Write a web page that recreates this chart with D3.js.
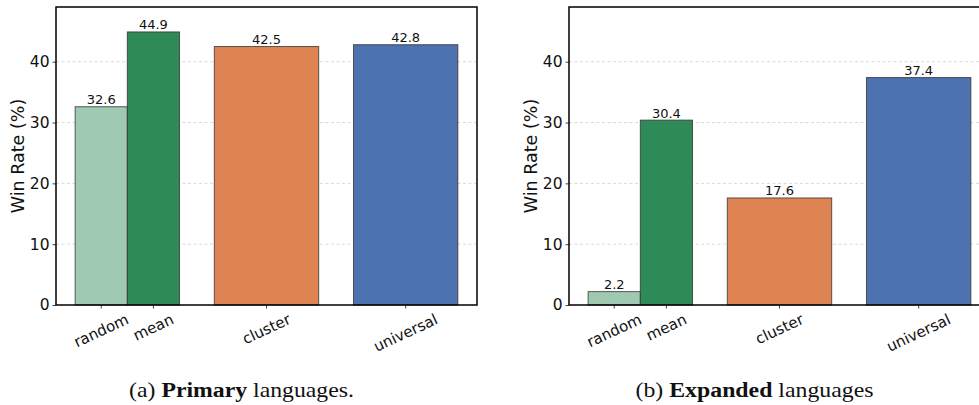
<!DOCTYPE html>
<html>
<head>
<meta charset="utf-8">
<script src="https://cdn.jsdelivr.net/npm/d3@7"></script>
<style>
  body { margin: 0; background: #fff; }
  svg { display: block; }
</style>
</head>
<body>
<div id="chart"></div>
<script>
// data
const methods = ['random', 'mean', 'cluster', 'universal']
const groups = [['random', 'mean'], ['cluster'], ['universal']]
const primaryRates = [32.6, 44.9, 42.5, 42.8]
const expandedRates = [2.2, 30.4, 17.6, 37.4]
const yTicks = [0, 10, 20, 30, 40]
const colors = {random: '#a0c9b2', mean: '#2e8b57', cluster: '#dd8452', universal: '#4c72b0'}

const W = 979, H = 405
const svg = d3.select('#chart').append('svg').attr('width', W).attr('height', H)

// lay out bars: groups at 0,1,2, total width 0.75 split inside a group
function layout (values) {
  const out = []
  groups.forEach((g, gi) => {
    const bw = 0.75 / g.length
    g.forEach((m, k) => {
      out.push({name: m, value: values[methods.indexOf(m)], x0: gi - 0.375 + k * bw, x1: gi - 0.375 + (k + 1) * bw})
    })
  })
  return out
}

function panel (left, values, captionParts, captionWidth) {
  const top = 7, bottom = 305, width = 421
  const data = layout(values)
  const x = d3.scaleLinear().domain([-0.5125, 2.5125]).range([left, left + width])
  const y = d3.scaleLinear().domain([0, 49]).range([bottom, top])
  const g = svg.append('g')

  // grid
  g.selectAll('line.grid').data(yTicks.filter(d => d > 0)).join('line')
    .attr('x1', left).attr('x2', left + width)
    .attr('y1', d => y(d)).attr('y2', d => y(d))
    .attr('stroke', '#cfcfcf').attr('stroke-width', 0.8).attr('stroke-dasharray', '3,2.5')

  // bars
  g.selectAll('rect').data(data).join('rect')
    .attr('x', d => x(d.x0)).attr('width', d => x(d.x1) - x(d.x0))
    .attr('y', d => y(d.value)).attr('height', d => y(0) - y(d.value))
    .attr('fill', d => colors[d.name])
    .attr('stroke', '#333').attr('stroke-opacity', 0.8).attr('stroke-width', 1)

  // value labels
  g.selectAll('text.val').data(data).join('text')
    .attr('x', d => x((d.x0 + d.x1) / 2)).attr('y', d => y(d.value) - 2.5)
    .attr('text-anchor', 'middle')
    .style('font', '13px "DejaVu Sans"').attr('fill', '#111')
    .text(d => d.value.toFixed(1))

  // y axis
  const yAxis = d3.axisLeft(y).tickValues(yTicks).tickSize(3.5).tickPadding(3)
  const ya = g.append('g').attr('transform', `translate(${left},0)`).call(yAxis)
  ya.select('.domain').remove()
  ya.selectAll('text').style('font', '15.5px "DejaVu Sans"').attr('fill', '#111')
  ya.selectAll('line').attr('stroke', '#111').attr('stroke-width', 0.8)

  // x ticks
  const tickData = data.map(d => ({name: d.name, pos: (d.x0 + d.x1) / 2}))
  g.selectAll('line.xt').data(tickData).join('line')
    .attr('x1', d => x(d.pos)).attr('x2', d => x(d.pos))
    .attr('y1', bottom).attr('y2', bottom + 3.5)
    .attr('stroke', '#111').attr('stroke-width', 0.8)
  const rot = 25 * Math.PI / 180
  g.selectAll('text.xt').data(tickData).join('text')
    .style('font', '15px "DejaVu Sans"').attr('fill', '#111')
    .attr('text-anchor', 'middle').attr('dominant-baseline', 'central')
    .text(d => d.name)
    .each(function (d) {
      const w = this.getComputedTextLength()
      const h = 15 * 1.1
      const cy = bottom + 6 + (w * Math.sin(rot) + h * Math.cos(rot)) / 2
      d3.select(this).attr('transform', `translate(${x(d.pos)},${cy}) rotate(-25)`)
    })

  // frame
  g.append('rect').attr('x', left).attr('y', top).attr('width', width).attr('height', bottom - top)
    .attr('fill', 'none').attr('stroke', '#000').attr('stroke-width', 1.5)

  // y label
  g.append('text')
    .attr('transform', `translate(${left - 38},${(top + bottom) / 2}) rotate(-90)`)
    .attr('text-anchor', 'middle').attr('dominant-baseline', 'central')
    .style('font', '17.5px "DejaVu Sans"').attr('fill', '#111')
    .text('Win Rate (%)')

  // caption, stretched to the width it has in the figure
  const cap = g.append('text')
    .attr('text-anchor', 'middle')
    .style('font-family', '"Liberation Serif", "Times New Roman", Times, serif')
    .style('font-size', '21px').attr('fill', '#111')
  cap.append('tspan').text(captionParts[0])
  cap.append('tspan').attr('font-weight', 'bold').text(captionParts[1])
  cap.append('tspan').text(captionParts[2])
  const len = cap.node().getComputedTextLength()
  cap.attr('transform', `translate(${left + width / 2 - 25},396.5) scale(${captionWidth / len},1)`)
}

panel(56, primaryRates, ['(a) ', 'Primary', ' languages.'], 225)
panel(569, expandedRates, ['(b) ', 'Expanded', ' languages'], 238)
</script>
</body>
</html>
